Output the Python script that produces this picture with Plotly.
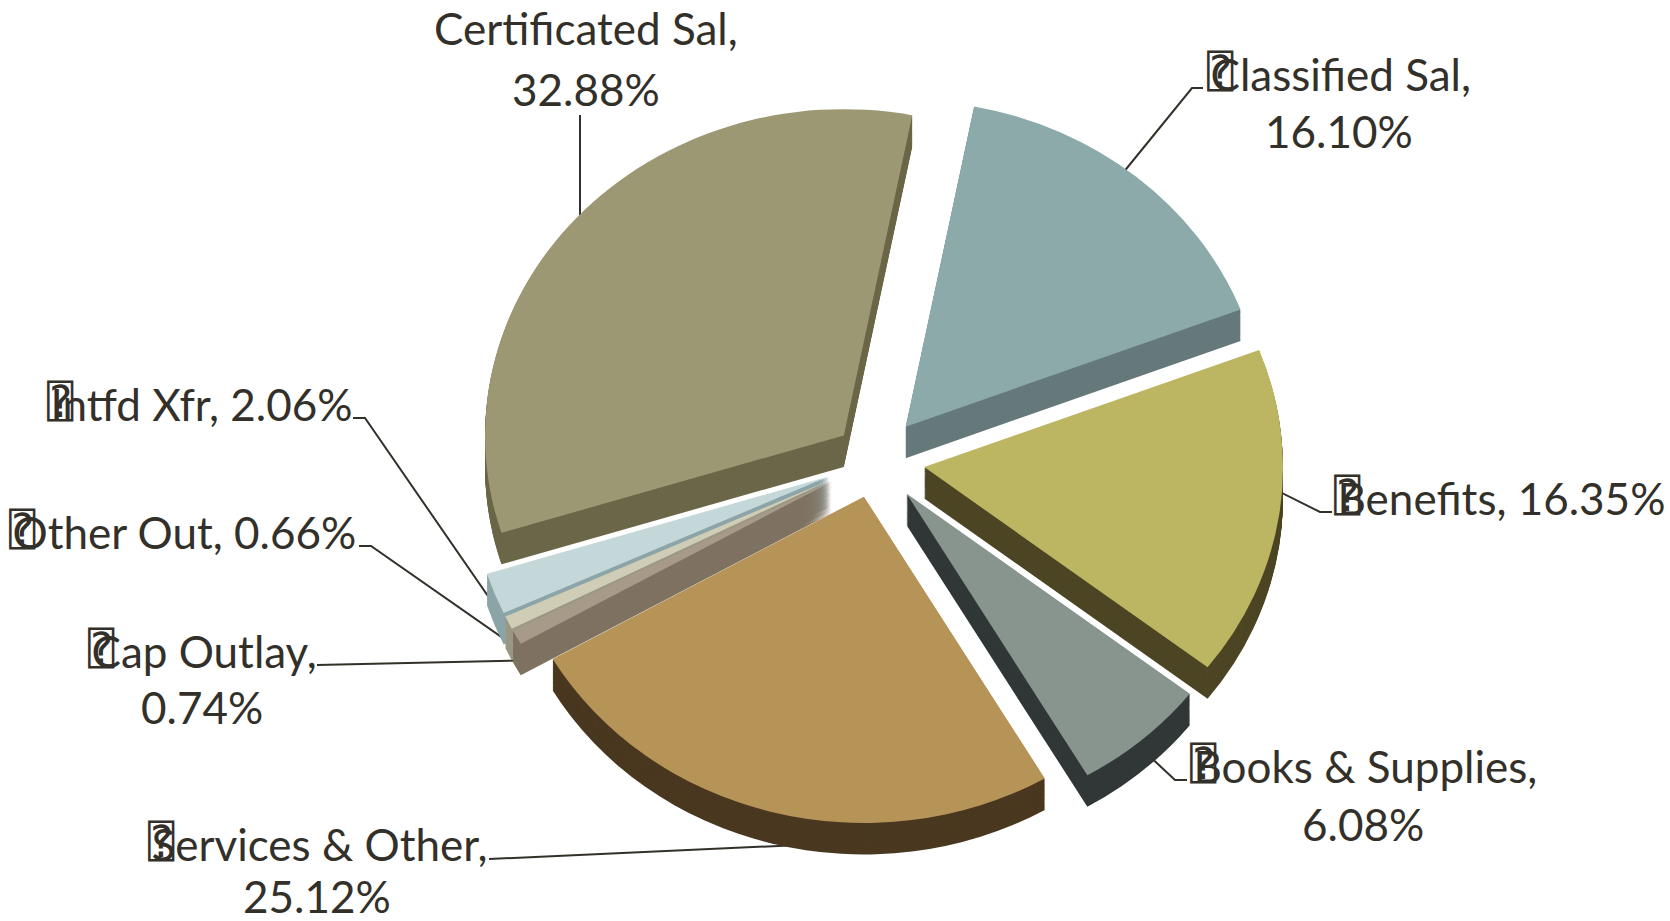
import plotly.graph_objects as go

W, H = 1670, 921

# data
categories = ["Classified Sal", "Benefits", "Books & Supplies", "Services & Other",
              "Cap Outlay", "Other Out", "Intfd Xfr", "Certificated Sal"]
values = [16.10, 16.35, 6.08, 25.12, 0.74, 0.66, 2.06, 32.88]
pulls = [0.135, 0.14, 0.135, 0.115, 0.135, 0.135, 0.135, 0.115]

# style
top_colors = ["#8caaaa", "#bcb662", "#88948e", "#b69357", "#a89a88", "#cfcdb5", "#c4d8da", "#9c9873"]
side_colors = ["#66797b", "#4d4625", "#323838", "#4a3820", "#7f7262", "#9a9884", "#8ca5a8", "#6b6749"]
TEXT = "#33302a"
FONT = "Lato"
FS = 44

# label text lines with centre position in page pixels
label_lines = {
    "Certificated Sal": [(586, 28), (586, 89)],
    "Classified Sal": [(1339, 73), (1339, 131)],
    "Benefits": [(1499, 497)],
    "Books & Supplies": [(1363, 765), (1363, 824)],
    "Services & Other": [(317, 843), (317, 896)],
    "Cap Outlay": [(202, 650), (202, 707)],
    "Other Out": [(182, 531)],
    "Intfd Xfr": [(200, 403)],
}
# labels whose first letter carries a missing-glyph box in the reference
boxed = {"Classified Sal", "Benefits", "Books & Supplies", "Services & Other",
         "Cap Outlay", "Other Out", "Intfd Xfr"}
BOX = ('<span style="font-family:\'DejaVu Sans Mono\';font-size:44px;'
       'letter-spacing:-23px;baseline-shift:4px">⍰</span>')
leaders = [
    [(353, 418), (365, 418), (510, 628)],
    [(359, 546), (371, 546), (530, 657)],
    [(317, 665), (545, 660)],
    [(489, 859), (800, 845)],
    [(580, 115), (580, 240)],
    [(1203, 88), (1192, 88), (1105, 195)],
    [(1332, 512), (1320, 512), (1250, 477)],
    [(1187, 780), (1175, 780), (1130, 738)],
]

cx, cy, r = 875, 460, 342
depth = 33
layers = 33
size = 2 * r * (1 + max(pulls))
# mild foreshortening of the tilted pie
sx, sy = 1.049, 0.954
px, py = 884, 469


def pie(offset, colors):
    y = cy + offset
    return go.Pie(
        labels=categories, values=values, pull=pulls, rotation=11,
        direction="clockwise", sort=False, textinfo="none", hoverinfo="skip",
        showlegend=False,
        marker=dict(colors=colors, line=dict(width=0)),
        domain=dict(x=[(cx - size / 2) / W, (cx + size / 2) / W],
                    y=[1 - (y + size / 2) / H, 1 - (y - size / 2) / H]),
    )


fig = go.Figure()
for i in range(layers, 0, -1):
    fig.add_trace(pie(depth * i / layers, side_colors))
fig.add_trace(pie(0, top_colors))

annotations = []
for cat, val in zip(categories, values):
    lines = label_lines[cat]
    texts = [f"{cat}, {val:.2f}%"] if len(lines) == 1 else [f"{cat},", f"{val:.2f}%"]
    if cat in boxed:
        texts[0] = BOX + texts[0]
    for (x, y), t in zip(lines, texts):
        annotations.append(dict(
            x=x / W, y=1 - y / H, xref="paper", yref="paper", text=t, showarrow=False,
            xanchor="center", yanchor="middle",
            font=dict(family=FONT, size=FS, color=TEXT),
        ))

shapes = []
for pts in leaders:
    path = "M " + " L ".join(f"{x / W:.5f} {1 - y / H:.5f}" for x, y in pts)
    shapes.append(dict(type="path", path=path, xref="paper", yref="paper", layer="below",
                       line=dict(color=TEXT, width=2)))

fig.update_layout(width=W, height=H, margin=dict(l=0, r=0, t=0, b=0),
                  paper_bgcolor="white", plot_bgcolor="white",
                  annotations=annotations, shapes=shapes, showlegend=False)
post = (
    "document.body.style.margin='0';document.body.style.overflow='hidden';"
    "document.querySelectorAll('.pielayer').forEach(function(g){"
    f"g.setAttribute('transform','translate({px},{py}) scale({sx},{sy}) translate({-px},{-py})');}});"
)
fig.write_html("out.html", post_script=post, config=dict(displayModeBar=False))
